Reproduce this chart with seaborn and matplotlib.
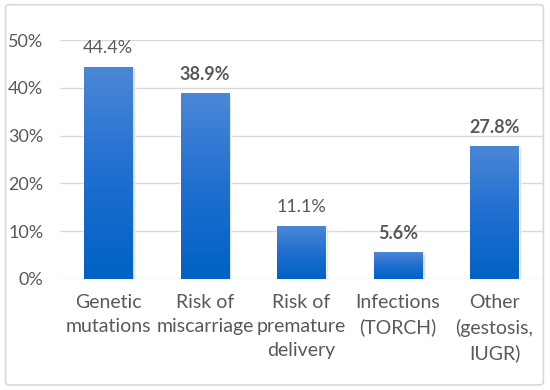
import numpy as np
import matplotlib
matplotlib.use("Agg")
import matplotlib.pyplot as plt
import seaborn as sns
from matplotlib.patches import FancyBboxPatch
from matplotlib.colors import LinearSegmentedColormap

categories = ["Genetic\nmutations", "Risk of\nmiscarriage", "Risk of\npremature\ndelivery",
              "Infections\n(TORCH)", "Other\n(gestosis,\nIUGR)"]
values = [44.4, 38.9, 11.1, 5.6, 27.8]
bold_labels = [False, True, False, True, True]

sns.set_style("white")
plt.rcParams['font.family'] = ['Lato', 'DejaVu Sans']

text_color = "#595959"
fig = plt.figure(figsize=(5.5, 3.9), dpi=100)
ax = fig.add_axes([0.109, 0.285, 0.878, 0.612])

sns.barplot(x=categories, y=values, color="#2a74cc", width=0.5, ax=ax, zorder=3)

# gradient fill on each bar
cmap = LinearSegmentedColormap.from_list("bar", ["#0062c4", "#1f6fd0", "#4b87d6"])
grad = np.linspace(0, 1, 256).reshape(-1, 1)
for p in ax.patches:
    x0, y0 = p.get_x(), p.get_y()
    w, h = p.get_width(), p.get_height()
    # soft shadow
    ax.bar(x0 + w / 2 + 0.015, h, width=w + 0.02, bottom=-0.3, color="#c8c8c8", alpha=0.6, zorder=2)
    im = ax.imshow(grad, extent=[x0, x0 + w, y0, y0 + h], aspect="auto", cmap=cmap,
                   origin="lower", zorder=4)
    im.set_clip_path(p)
    p.set_alpha(1)

ax.set_ylim(0, 50)
ax.set_xlim(-0.5, 4.5)
ax.set_yticks(range(0, 51, 10))
ax.set_yticklabels([f"{t}%" for t in range(0, 51, 10)])
ax.grid(axis="y", color="#d9d9d9", linewidth=1, zorder=0)
ax.set_axisbelow(True)
for s in ax.spines.values():
    s.set_visible(False)
ax.tick_params(axis="both", length=0, labelcolor=text_color)
ax.tick_params(axis="y", pad=12, labelsize=13)
ax.tick_params(axis="x", pad=11, labelsize=14)
for lbl in ax.get_xticklabels():
    lbl.set_linespacing(1.5)
    lbl.set_verticalalignment("top")
ax.set_xlabel("")
ax.set_ylabel("")

for i, (v, b) in enumerate(zip(values, bold_labels)):
    ax.text(i, v + 4, f"{v:.1f}%", ha="center", va="center", fontsize=13,
            color=text_color, fontweight="bold" if b else "normal", zorder=5)

frame = FancyBboxPatch((0.01, 0.013), 0.978, 0.975, boxstyle="round,pad=0,rounding_size=0.008",
                       transform=fig.transFigure, fill=False, edgecolor="#d9d9d9", linewidth=1.2)
fig.patches.append(frame)

fig.savefig("out.png", dpi=100)
